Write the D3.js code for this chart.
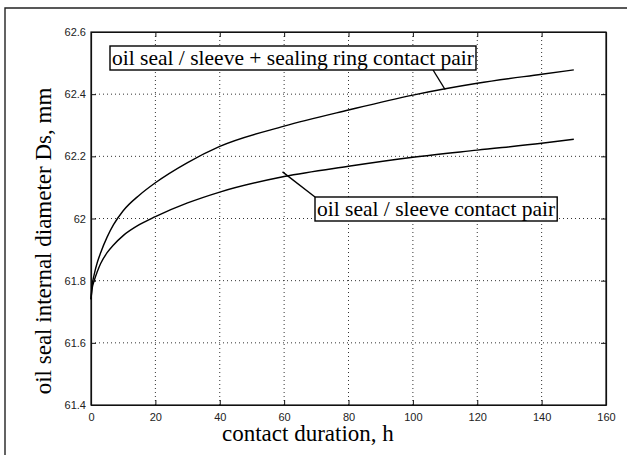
<!DOCTYPE html>
<html>
<head>
<meta charset="utf-8">
<script src="https://cdn.jsdelivr.net/npm/d3@7"></script>
<style>
  body { margin: 0; background: #fff; }
  svg { display: block; }
</style>
</head>
<body>
<svg id="chart" width="627" height="455"></svg>
<script>
const hours = [0, 0.3, 1, 2, 3, 5, 7, 10, 15, 20, 30, 40, 60, 80, 100, 120, 140, 150];
const withRing = [61.74, 61.78, 61.82, 61.86, 61.89, 61.94, 61.98, 62.025, 62.075, 62.115, 62.18, 62.232, 62.297, 62.349, 62.397, 62.435, 62.464, 62.478];
const sleeveOnly = [61.74, 61.77, 61.80, 61.83, 61.855, 61.89, 61.915, 61.945, 61.98, 62.006, 62.05, 62.085, 62.135, 62.168, 62.197, 62.22, 62.242, 62.255];
const xTicks = [0, 20, 40, 60, 80, 100, 120, 140, 160];
const yTicks = [61.4, 61.6, 61.8, 62, 62.2, 62.4, 62.6];
const labelText = ['oil seal / sleeve + sealing ring contact pair', 'oil seal / sleeve contact pair'];

const serif = '"Liberation Serif", "Times New Roman", serif';
const sans = '"Liberation Sans", Arial, sans-serif';

const svg = d3.select('#chart');
const margin = {top: 32, right: 21, bottom: 50, left: 91};
const width = +svg.attr('width');
const height = +svg.attr('height');
const innerWidth = width - margin.left - margin.right;
const innerHeight = height - margin.top - margin.bottom;

// scanned page frame (top and left edges only)
svg.append('path')
  .attr('d', 'M5,455 L5,8 L627,8')
  .attr('fill', 'none')
  .attr('stroke', '#222')
  .attr('stroke-width', 1.4);

const g = svg.append('g')
  .attr('transform', `translate(${margin.left}, ${margin.top})`);

const x = d3.scaleLinear().domain([0, 160]).range([0, innerWidth]);
const y = d3.scaleLinear().domain([61.4, 62.6]).range([innerHeight, 0]);

// dotted grid
g.append('g').selectAll('line').data(xTicks.slice(1, -1)).enter().append('line')
  .attr('x1', d => x(d)).attr('x2', d => x(d))
  .attr('y1', 0).attr('y2', innerHeight)
  .attr('stroke', '#333').attr('stroke-width', 1).attr('stroke-dasharray', '1,3');
g.append('g').selectAll('line').data(yTicks.slice(1, -1)).enter().append('line')
  .attr('y1', d => y(d)).attr('y2', d => y(d))
  .attr('x1', 0).attr('x2', innerWidth)
  .attr('stroke', '#333').attr('stroke-width', 1).attr('stroke-dasharray', '1,3');

// axes, matlab style: inward ticks on all four sides
const xAxis = d3.axisBottom(x).tickValues(xTicks).tickSizeInner(-5).tickSizeOuter(0).tickPadding(11).tickFormat(d3.format('d'));
const yAxis = d3.axisLeft(y).tickValues(yTicks).tickSizeInner(-5).tickSizeOuter(0).tickPadding(5).tickFormat(d => String(+d.toFixed(1)));
const xAxisGroup = g.append('g').attr('transform', `translate(0, ${innerHeight})`).call(xAxis);
const yAxisGroup = g.append('g').call(yAxis);
const topAxis = g.append('g').call(d3.axisTop(x).tickValues(xTicks).tickSizeInner(-5).tickSizeOuter(0));
const rightAxis = g.append('g').attr('transform', `translate(${innerWidth}, 0)`)
  .call(d3.axisRight(y).tickValues(yTicks).tickSizeInner(-5).tickSizeOuter(0));
topAxis.selectAll('text').remove();
rightAxis.selectAll('text').remove();
g.selectAll('.domain').attr('stroke', '#111').attr('stroke-width', 1.2);
g.selectAll('.tick line').attr('stroke', '#111');
g.selectAll('.tick text').attr('font-family', sans).attr('font-size', 11).attr('fill', '#222');
xAxisGroup.selectAll('.tick text').attr('dy', '0.45em');

g.append('rect')
  .attr('width', innerWidth).attr('height', innerHeight)
  .attr('fill', 'none').attr('stroke', '#111').attr('stroke-width', 1.2);

// curves
const line = d3.line()
  .x(d => x(d[0]))
  .y(d => y(d[1]))
  .curve(d3.curveMonotoneX);
[withRing, sleeveOnly].forEach(series => {
  g.append('path')
    .datum(hours.map((h, i) => [h, series[i]]))
    .attr('d', line)
    .attr('fill', 'none')
    .attr('stroke', '#000')
    .attr('stroke-width', 1.4);
});

// annotation boxes with leader lines
function annotate(text, tx, ty, target, corner) {
  const grp = g.append('g');
  const t = grp.append('text')
    .attr('x', tx).attr('y', ty)
    .attr('font-family', serif)
    .attr('font-size', 21.5)
    .attr('fill', '#000')
    .text(text);
  const b = t.node().getBBox();
  const bx = b.x - 2, by = ty - 19, bw = b.width + 4, bh = 24;
  const anchor = corner === 'bottom' ? [x(target.at) - 12, by + bh] : [bx, by];
  grp.insert('line', 'text')
    .attr('x1', x(target.at)).attr('y1', y(target.val))
    .attr('x2', anchor[0]).attr('y2', anchor[1])
    .attr('stroke', '#000').attr('stroke-width', 1.4);
  grp.insert('rect', 'text')
    .attr('x', bx).attr('y', by).attr('width', bw).attr('height', bh)
    .attr('fill', '#fff').attr('stroke', '#000').attr('stroke-width', 1.4);
}
annotate(labelText[0], 21, 33, {at: 110, val: 62.415}, 'bottom');
annotate(labelText[1], 226, 184, {at: 59.5, val: 62.15}, 'topleft');

// axis titles
svg.append('text')
  .attr('x', 222).attr('y', 441)
  .attr('font-family', serif)
  .attr('font-size', 23)
  .text('contact duration, h');
svg.append('text')
  .attr('transform', 'translate(51, 241) rotate(-90)')
  .attr('text-anchor', 'middle')
  .attr('font-family', serif)
  .attr('font-size', 23)
  .text('oil seal internal diameter Ds, mm');
</script>
</body>
</html>
